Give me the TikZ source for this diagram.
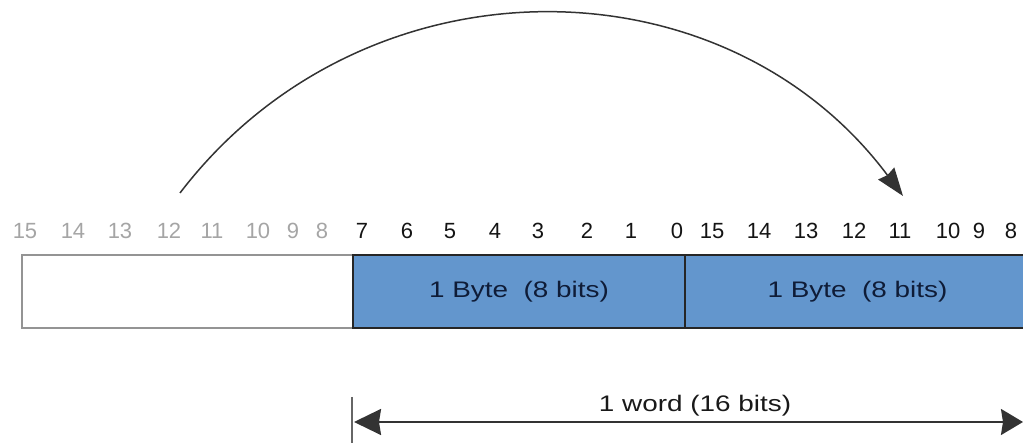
\documentclass[tikz,border=0pt]{standalone}
\usepackage{fontspec}
\setmainfont{Liberation Sans}
\newfontfamily\widefont[FakeStretch=1.24]{Liberation Sans}
\usetikzlibrary{arrows.meta}
\definecolor{bytefill}{RGB}{99,150,205}
\definecolor{bytetext}{RGB}{15,28,55}
\definecolor{graynum}{RGB}{165,165,165}
\definecolor{darknum}{RGB}{20,20,20}
\begin{document}
\begin{tikzpicture}[x=1pt,y=1pt,
  bitnum/.style={font=\fontsize{22}{22}\selectfont, text=darknum, inner sep=0pt, anchor=center},
  graybit/.style={bitnum, text=graynum},
  emptybox/.style={draw=black!42, line width=2pt, fill=white, minimum height=73pt, inner sep=0pt},
  bytebox/.style={draw=black!85, line width=2pt, fill=bytefill, minimum height=73pt, inner sep=0pt,
    text=bytetext, font=\widefont\fontsize{22.5}{22.5}\selectfont},
  wordlabel/.style={font=\widefont\fontsize{22.5}{22.5}\selectfont, text=black!90, inner sep=0pt}
]
\useasboundingbox (0,0) rectangle (1023,443);
% boxes
\node[emptybox, minimum width=331pt] (empty) at (187.5,151.5) {};
\node[bytebox, minimum width=332pt] (byteA) at (519,151.5) {1 Byte\ \ (8 bits)};
\node[bytebox, minimum width=345pt] (byteB) at (857.5,151.5) {1 Byte\ \ (8 bits)};
% gray bit numbers (high byte of first word)
\node[graybit] (g15) at (25,212) {15};
\node[graybit] (g14) at (73,212) {14};
\node[graybit] (g13) at (120,212) {13};
\node[graybit] (g12) at (169,212) {12};
\node[graybit] (g11) at (212,212) {11};
\node[graybit] (g10) at (258,212) {10};
\node[graybit] (g9) at (293,212) {9};
\node[graybit] (g8) at (322,212) {8};
% low byte bit numbers
\node[bitnum] (b7) at (362,212) {7};
\node[bitnum] (b6) at (407,212) {6};
\node[bitnum] (b5) at (450,212) {5};
\node[bitnum] (b4) at (495,212) {4};
\node[bitnum] (b3) at (538,212) {3};
\node[bitnum] (b2) at (587,212) {2};
\node[bitnum] (b1) at (631,212) {1};
\node[bitnum] (b0) at (677,212) {0};
% high byte bit numbers
\node[bitnum] (h15) at (712,212) {15};
\node[bitnum] (h14) at (759,212) {14};
\node[bitnum] (h13) at (806,212) {13};
\node[bitnum] (h12) at (854,212) {12};
\node[bitnum] (h11) at (900,212) {11};
\node[bitnum] (h10) at (948,212) {10};
\node[bitnum] (h9) at (979,212) {9};
\node[bitnum] (h8) at (1011,212) {8};
% arc arrow
\coordinate (arcS) at (180,250);
\coordinate (arcE) at (903,247);
\draw[line width=1.5pt, black!80, -{Stealth[length=28pt,width=20pt,inset=2pt]}]
  (arcS) .. controls (363,489.5) and (722.7,488.1) .. (arcE);
% word dimension
\coordinate (tickT) at (352,46);
\coordinate (tickB) at (352,0);
\draw[line width=2.5pt, black!60] (tickT) -- (tickB);
\coordinate (wL) at (354,21);
\coordinate (wR) at (1023,21);
\draw[line width=2pt, black!80, {Stealth[length=27pt,width=26pt,inset=2pt]}-{Stealth[length=22pt,width=26pt,inset=2pt]}] (wL) -- (wR);
\node[wordlabel] (wlab) at (695,37) {1 word (16 bits)};
\end{tikzpicture}
\end{document}
